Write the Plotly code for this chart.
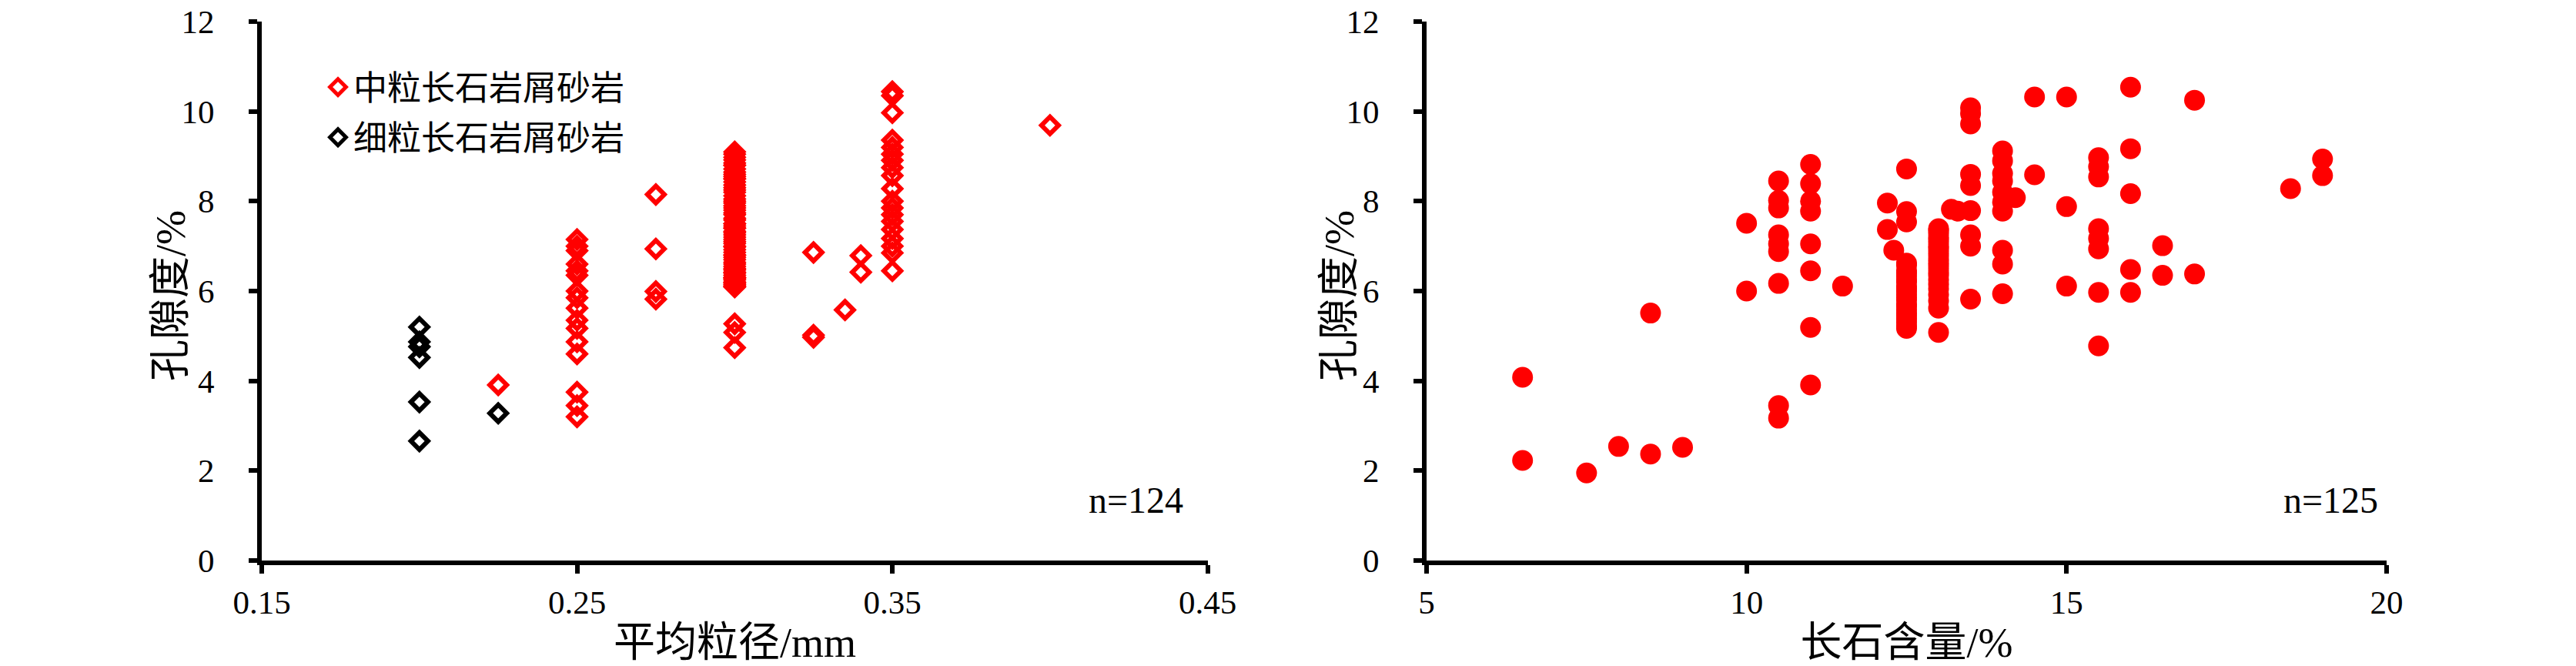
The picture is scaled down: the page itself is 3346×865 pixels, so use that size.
import plotly.graph_objects as go

# ---------------- Data: left panel (mean grain size vs porosity) ----------------
medium_x = [0.225,
            0.25, 0.25, 0.25, 0.25, 0.25, 0.25, 0.25, 0.25, 0.25, 0.25, 0.25, 0.25, 0.25, 0.25, 0.25, 0.25,
            0.275, 0.275, 0.275, 0.275,
            0.3, 0.3, 0.3, 0.3, 0.3, 0.3, 0.3, 0.3, 0.3, 0.3,
            0.3, 0.3, 0.3, 0.3, 0.3, 0.3, 0.3, 0.3, 0.3, 0.3,
            0.3, 0.3, 0.3, 0.3, 0.3, 0.3, 0.3, 0.3, 0.3, 0.3,
            0.3, 0.3, 0.3, 0.3, 0.3, 0.3, 0.3, 0.3, 0.3, 0.3,
            0.3, 0.3, 0.3, 0.3, 0.3, 0.3, 0.3, 0.3, 0.3, 0.3,
            0.3, 0.3, 0.3, 0.3, 0.3, 0.3, 0.3, 0.3, 0.3, 0.3,
            0.3, 0.3, 0.3, 0.3, 0.3, 0.3, 0.3, 0.3, 0.3, 0.3,
            0.325, 0.325, 0.325,
            0.335,
            0.34, 0.34,
            0.35, 0.35, 0.35, 0.35, 0.35, 0.35, 0.35, 0.35, 0.35, 0.35,
            0.35, 0.35, 0.35, 0.35, 0.35, 0.35, 0.35, 0.35, 0.35,
            0.4]
medium_y = [3.91,
            7.15, 7.00, 6.90, 6.60, 6.45, 6.35, 6.00, 5.85, 5.62, 5.35, 5.17, 4.87, 4.60, 3.75, 3.45, 3.20,
            8.15, 6.94, 5.99, 5.82,
            9.10, 9.05, 8.98, 8.92, 8.85, 8.80, 8.80, 8.72, 8.65, 8.60,
            8.55, 8.50, 8.50, 8.43, 8.36, 8.30, 8.25, 8.20, 8.12, 8.05,
            8.00, 7.96, 7.90, 7.85, 7.80, 7.74, 7.70, 7.62, 7.58, 7.50,
            7.50, 7.45, 7.40, 7.33, 7.30, 7.25, 7.20, 7.15, 7.10, 7.06,
            7.00, 6.98, 6.92, 6.86, 6.80, 6.80, 6.75, 6.70, 6.64, 6.60,
            6.55, 6.50, 6.47, 6.42, 6.40, 6.35, 6.30, 6.28, 6.25, 6.20,
            6.18, 6.15, 6.12, 6.10, 6.09, 6.30, 7.40, 5.27, 5.08, 4.74,
            6.86, 5.02, 4.97,
            5.58,
            6.79, 6.42,
            10.44, 10.35, 9.97, 9.36, 9.20, 9.05, 8.91, 8.75, 8.57, 8.28,
            8.00, 7.85, 7.70, 7.55, 7.37, 7.17, 7.00, 6.85, 6.45,
            9.69]

fine_x = [0.2, 0.2, 0.2, 0.2, 0.2, 0.2, 0.225]
fine_y = [5.20, 4.87, 4.76, 4.52, 3.53, 2.66, 3.28]

left_xticks = [0.15, 0.25, 0.35, 0.45]
left_xticklabels = ["0.15", "0.25", "0.35", "0.45"]
y_ticks = [0, 2, 4, 6, 8, 10, 12]

# ---------------- Data: right panel (feldspar content vs porosity) ----------------
feldspar_x = [6.5, 6.5, 7.5, 8.0, 8.5, 8.5, 9.0,
              10.0, 10.0,
              10.5, 10.5, 10.5, 10.5, 10.5, 10.5, 10.5, 10.5, 10.5,
              11.0, 11.0, 11.0, 11.0, 11.0, 11.0, 11.0, 11.0,
              11.5,
              12.2, 12.2, 12.3,
              12.5, 12.5, 12.5,
              12.5, 12.5, 12.5, 12.5, 12.5, 12.5, 12.5, 12.5, 12.5, 12.5, 12.5,
              12.5, 12.5, 12.5, 12.5, 12.5, 12.5, 12.5, 12.5, 12.5, 12.5, 12.5,
              13.0, 13.0, 13.0, 13.0, 13.0, 13.0, 13.0, 13.0, 13.0, 13.0, 13.0,
              13.0, 13.0, 13.0, 13.0, 13.0, 13.0, 13.0, 13.0, 13.0, 13.0, 13.0,
              13.0, 13.2, 13.3,
              13.5, 13.5, 13.5, 13.5, 13.5, 13.5, 13.5, 13.5, 13.5,
              14.0, 14.0, 14.0, 14.0, 14.0, 14.0, 14.0, 14.2, 14.0, 14.0, 14.0,
              14.5, 14.5,
              15.0, 15.0, 15.0,
              15.5, 15.5, 15.5, 15.5, 15.5, 15.5, 15.5, 15.5,
              16.0, 16.0, 16.0, 16.0, 16.0,
              16.5, 16.5,
              17.0, 17.0,
              18.5,
              19.0, 19.0]
porosity_y = [4.08, 2.23, 1.95, 2.54, 5.51, 2.37, 2.52,
              7.51, 6.00,
              8.45, 8.02, 7.85, 7.25, 7.05, 6.88, 6.17, 3.45, 3.17,
              8.82, 8.39, 8.00, 7.78, 7.05, 6.45, 5.19, 3.91,
              6.11,
              7.96, 7.37, 6.91,
              8.72, 7.77, 7.54,
              6.62, 6.58, 6.45, 6.40, 6.33, 6.25, 6.20, 6.10, 6.05, 6.00, 5.92,
              5.85, 5.80, 5.70, 5.66, 5.58, 5.50, 5.45, 5.38, 5.30, 5.22, 5.17,
              7.39, 7.35, 7.28, 7.20, 7.15, 7.08, 7.00, 6.95, 6.88, 6.80, 6.72,
              6.65, 6.58, 6.50, 6.42, 6.35, 6.25, 6.15, 6.05, 5.92, 5.78, 5.62,
              5.08, 7.82, 7.78,
              10.08, 9.95, 9.72, 8.60, 8.35, 7.79, 7.25, 7.00, 5.82,
              9.12, 8.90, 8.62, 8.45, 8.20, 7.98, 7.78, 8.08, 6.91, 6.60, 5.94,
              10.32, 8.59,
              10.32, 7.88, 6.11,
              8.97, 8.77, 8.54, 7.39, 7.17, 6.94, 5.97, 4.78,
              10.54, 9.17, 8.17, 6.48, 5.97,
              7.01, 6.35,
              10.25, 6.38,
              8.28,
              8.94, 8.57]

right_xticks = [5, 10, 15, 20]

# ---------------- Styling ----------------
W, H = 3346, 865
SERIF = "Liberation Serif, 'Times New Roman', serif"
MIXED = "Liberation Serif, 'Noto Sans CJK SC', serif"

def px_x(x):
    return x / W

def px_y(y):
    return 1 - y / H

fig = go.Figure()

fig.add_trace(go.Scatter(
    x=medium_x, y=medium_y, mode="markers", name="中粒长石岩屑砂岩",
    legendgroup="a", xaxis="x", yaxis="y",
    marker=dict(symbol="diamond-open", size=17, color="#FF0000",
                line=dict(width=6, color="#FF0000"))))
fig.add_trace(go.Scatter(
    x=fine_x, y=fine_y, mode="markers", name="细粒长石岩屑砂岩",
    legendgroup="b", xaxis="x", yaxis="y",
    marker=dict(symbol="diamond-open", size=17, color="#000000",
                line=dict(width=6, color="#000000"))))
fig.add_trace(go.Scatter(
    x=feldspar_x, y=porosity_y, mode="markers", showlegend=False,
    xaxis="x2", yaxis="y2",
    marker=dict(symbol="circle", size=27, color="#FF0000", line=dict(width=0))))

axis_common = dict(
    showline=True, linecolor="black", linewidth=6, mirror=False,
    ticks="outside", ticklen=11, tickwidth=6, tickcolor="black",
    showgrid=False, zeroline=False, automargin=False,
    ticklabeloverflow="allow",
    tickfont=dict(family=SERIF, size=43, color="black"),
)

ydom = [px_y(728), px_y(28)]
TITLE_FONT = dict(family=MIXED, size=54, color="black")

fig.update_layout(
    width=W, height=H,
    margin=dict(l=0, r=0, t=0, b=0, autoexpand=False),
    paper_bgcolor="white", plot_bgcolor="white",
    xaxis=dict(domain=[px_x(340), px_x(1569)], range=[0.15, 0.4501],
               tickvals=left_xticks, ticktext=left_xticklabels,
               anchor="y", ticklabelstandoff=0,
               title=dict(text="平均粒径/mm", font=TITLE_FONT, standoff=38),
               **axis_common),
    yaxis=dict(domain=ydom, range=[0, 12.001], tickvals=y_ticks, anchor="x",
               ticklabelstandoff=36,
               **axis_common),
    xaxis2=dict(domain=[px_x(1853), px_x(3100)], range=[5, 20.001],
                tickvals=right_xticks, anchor="y2", ticklabelstandoff=0,
                title=dict(text="长石含量/%", font=TITLE_FONT, standoff=38),
                **axis_common),
    yaxis2=dict(domain=ydom, range=[0, 12.001], tickvals=y_ticks, anchor="x2",
                ticklabelstandoff=36,
                **axis_common),
    showlegend=True,
    legend=dict(x=px_x(419), y=px_y(78), xanchor="left", yanchor="top",
                font=dict(family=MIXED, size=44, color="black"),
                bgcolor="rgba(0,0,0,0)", borderwidth=0,
                tracegroupgap=5, itemsizing="trace"),
    annotations=[
        dict(text="孔隙度/%", x=px_x(222), y=px_y(384), xref="paper", yref="paper",
             xanchor="center", yanchor="middle", textangle=-90, showarrow=False,
             font=TITLE_FONT),
        dict(text="孔隙度/%", x=px_x(1740), y=px_y(384), xref="paper", yref="paper",
             xanchor="center", yanchor="middle", textangle=-90, showarrow=False,
             font=TITLE_FONT),
        dict(text="n=124", x=0.4427, y=1.34, xref="x", yref="y",
             xanchor="right", yanchor="middle", showarrow=False,
             font=dict(family=SERIF, size=48, color="black")),
        dict(text="n=125", x=19.89, y=1.34, xref="x2", yref="y2",
             xanchor="right", yanchor="middle", showarrow=False,
             font=dict(family=SERIF, size=48, color="black")),
    ],
)

fig.write_html("out.html",
               config={"displayModeBar": False},
               post_script="document.body.style.margin='0';"
                           "document.body.style.overflow='hidden';")
